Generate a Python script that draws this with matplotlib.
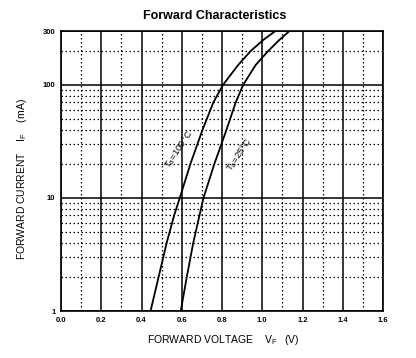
import numpy as np
import matplotlib
matplotlib.use("Agg")
import matplotlib.pyplot as plt
from matplotlib.ticker import FixedLocator, NullFormatter

plt.rcParams['font.family'] = ['Liberation Sans', 'DejaVu Sans']
plt.rcParams['mathtext.fontset'] = 'custom'
plt.rcParams['mathtext.rm'] = 'Liberation Sans'
plt.rcParams['mathtext.it'] = 'Liberation Sans'

# curves (current in mA, voltage in V)
current = [1, 2, 4, 7, 10, 20, 40, 70, 100, 150, 200, 250, 300]
vf_100c = [0.445, 0.485, 0.525, 0.562, 0.590, 0.643, 0.703, 0.757, 0.805, 0.880, 0.943, 1.005, 1.065]
vf_25c = [0.595, 0.625, 0.657, 0.688, 0.708, 0.762, 0.822, 0.868, 0.905, 0.967, 1.030, 1.085, 1.135]

x_ticks = [0.0, 0.2, 0.4, 0.6, 0.8, 1.0, 1.2, 1.4, 1.6]
x_minor = [0.1, 0.3, 0.5, 0.7, 0.9, 1.1, 1.3, 1.5]
y_ticks = [1, 10, 100, 300]
y_minor = [2, 3, 4, 5, 6, 7, 8, 9, 20, 30, 40, 50, 60, 70, 80, 90, 200]

fig = plt.figure(figsize=(4.16, 3.58), dpi=100)
ax = fig.add_axes([61/416, 47/358, 322/416, 280/358])

ax.set_yscale('log')
ax.set_xlim(0, 1.6)
ax.set_ylim(1, 300)

ax.xaxis.set_major_locator(FixedLocator(x_ticks))
ax.xaxis.set_minor_locator(FixedLocator(x_minor))
ax.yaxis.set_major_locator(FixedLocator(y_ticks))
ax.yaxis.set_minor_locator(FixedLocator(y_minor))
ax.set_xticklabels(['%.1f' % v for v in x_ticks])
ax.set_yticklabels([str(v) for v in y_ticks])
ax.yaxis.set_minor_formatter(NullFormatter())

ax.grid(which='major', color='black', linestyle='-', linewidth=1.1)
ax.grid(which='minor', color='black', linestyle=(0, (1.2, 2)), linewidth=0.9)
ax.tick_params(which='both', length=0, labelsize=5.5, pad=4)
for lbl in ax.get_xticklabels() + ax.get_yticklabels():
    lbl.set_fontweight('bold')
for sp in ax.spines.values():
    sp.set_linewidth(1.2)

ax.plot(vf_100c, current, color='black', linewidth=1.3)
ax.plot(vf_25c, current, color='black', linewidth=1.3)

ax.text(0.585, 27, r'T$_{a}$=100°C', rotation=56, fontsize=6.8, ha='center', va='center')
ax.text(0.885, 24, r'T$_{a}$=25°C', rotation=56, fontsize=6.8, ha='center', va='center')

fig.text(0.517, 0.956, 'Forward Characteristics', fontsize=9, fontweight='bold',
         ha='center', va='center')
fig.text(0.537, 0.05, r'FORWARD VOLTAGE    V$_{\mathrm{F}}$   (V)', fontsize=7.5,
         ha='center', va='center')
fig.text(0.053, 0.50, r'FORWARD CURRENT    I$_{\mathrm{F}}$    (mA)', fontsize=7.5,
         rotation=90, ha='center', va='center')

fig.savefig('out.png', dpi=100)
